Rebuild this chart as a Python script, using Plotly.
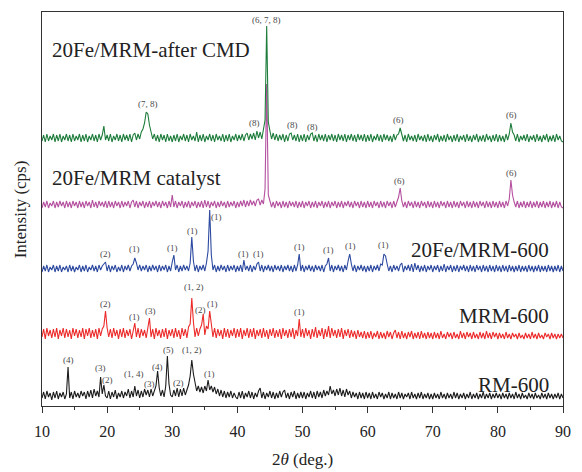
import plotly.graph_objects as go

# ---------------- data ----------------
# 2theta sampling grid, 10..90 deg every 0.25 deg (321 samples)
two_theta = [10 + 0.25 * i for i in range(321)]

# intensities above each pattern's own baseline; one row per 10 deg (40 samples) + final 90 deg value
rm600 = (
    [2,8,1,9,3,7,0,8,2,9,1,7,3,8,1,6,33,2,8,1,9,3,7,2,9,4,8,1,9,3,10,2,11,4,9,3,23,6,15,4]
  + [2,9,1,8,3,10,1,7,3,9,2,8,4,11,2,9,3,14,4,10,2,9,3,11,5,10,3,11,4,10,14,29,12,4,10,3,14,44,16,5]
  + [3,10,4,12,3,11,4,12,5,10,15,24,40,26,16,9,14,8,13,7,14,9,20,10,14,8,13,6,11,4,10,3,9,2,8,3,9,2,7,3]
  + [1,8,2,9,1,7,3,9,2,8,1,7,3,9,12,2,8,1,7,3,9,2,8,1,7,2,9,3,8,10,2,7,1,8,3,9,1,7,2,8]
  + [2,8,1,7,3,9,2,8,1,9,3,8,2,10,4,9,5,14,6,10,4,11,5,12,4,10,3,11,5,9,2,8,3,7,1,8,2,7,1,8]
  + [2,7,1,8,2,6,1,8,3,7,1,6,2,8,1,7,2,6,1,8,2,7,1,6,3,7,1,8,2,6,1,7,2,8,1,6,2,7,1,6]
  + [1,7,2,6,1,8,2,6,1,7,2,6,1,8,2,7,1,6,2,7,1,6,2,8,1,6,2,7,1,6,2,8,1,6,2,7,1,6,2,7]
  + [2,6,1,7,2,6,1,7,2,6,1,8,2,6,1,7,2,5,1,7,2,6,1,7,2,5,1,7,2,6,1,7,2,6,1,6,2,7,1,6]
  + [2]
)

mrm600 = (
    [3,11,1,12,4,10,2,11,3,12,1,10,4,12,2,11,3,10,1,12,4,11,2,10,3,12,1,11,4,12,2,10,3,11,1,12,4,11,14,29]
  + [12,3,11,2,12,4,10,1,11,3,12,2,10,4,11,1,9,17,3,12,2,11,4,10,2,12,22,3,11,1,12,4,10,2,11,3,12,1,10,4]
  + [11,2,12,3,10,1,12,4,11,2,13,16,42,18,3,12,4,11,15,26,5,14,11,29,13,3,12,2,11,4,10,1,12,3,11,2,10,4,12,2]
  + [11,3,12,1,10,4,12,2,11,3,12,1,10,4,11,2,12,3,10,1,11,4,12,2,10,3,11,1,12,4,10,2,11,3,12,1,10,4,21,3]
  + [11,2,12,4,10,1,11,3,13,2,10,4,12,1,11,3,14,2,12,4,10,2,11,3,12,1,10,4,11,2,10,3,9,1,10,3,8,2,9,1]
  + [8,2,9,1,7,3,9,1,8,2,7,1,9,3,8,1,7,10,2,8,1,9,2,7,1,8,3,9,1,7,2,8,1,9,2,7,1,8,2,7]
  + [1,8,2,7,1,9,2,6,1,8,3,7,1,8,2,6,1,9,2,7,1,8,3,7,1,8,2,6,1,8,2,7,1,9,2,7,1,8,3,7]
  + [1,7,2,6,1,8,2,6,1,7,3,6,1,7,2,5,1,7,2,6,1,8,2,6,1,7,2,5,1,7,3,6,1,7,2,6,1,6,2,6]
  + [2]
)

fe_mrm600 = (
    [1,7,2,8,1,6,3,8,1,7,2,8,1,6,3,7,1,8,2,7,1,6,3,8,1,7,2,8,1,6,3,8,2,7,1,8,3,7,9,11]
  + [2,8,1,7,3,8,1,6,2,8,1,7,3,8,2,7,9,15,10,3,8,2,7,3,8,1,7,2,8,3,7,1,8,2,7,3,8,1,7,2]
  + [11,18,3,8,1,7,2,8,3,7,2,10,36,12,2,8,1,7,3,8,2,10,22,63,18,3,8,1,7,2,8,3,7,1,8,2,7,3,8,1]
  + [7,2,8,1,13,3,7,2,8,1,7,3,9,11,2,8,1,7,3,8,2,7,1,8,3,7,2,8,1,7,3,8,2,7,1,8,2,8,19,2]
  + [8,1,7,3,8,2,7,1,8,3,7,2,8,1,7,9,15,2,8,1,7,3,8,2,7,1,8,3,12,19,9,2,8,1,7,3,8,2,7,1]
  + [7,2,8,1,7,3,8,2,9,8,19,17,9,2,7,1,8,3,7,2,8,10,1,7,3,8,2,9,1,10,3,8,1,7,2,8,1,7,3,8]
  + [1,7,3,8,1,7,2,9,1,7,3,8,1,7,2,8,1,7,3,8,2,7,1,8,2,7,1,8,3,7,1,8,2,7,1,8,2,7,1,8]
  + [2,7,1,8,2,7,1,8,2,7,1,7,2,8,1,7,2,7,1,8,2,7,1,7,2,8,1,7,2,7,1,8,2,7,1,7,2,8,1,7]
  + [2]
)

fe_catalyst = (
    [1,7,2,8,1,6,3,8,1,7,2,8,3,7,1,8,2,7,1,8,3,7,1,8,2,7,1,8,3,7,1,9,2,7,1,8,3,7,2,8]
  + [1,8,2,7,1,8,3,7,1,8,2,7,3,8,1,7,9,2,8,1,7,3,8,1,7,2,8,1,7,3,8,2,7,1,8,3,7,1,8,2]
  + [14,2,8,1,7,3,8,1,7,2,8,1,7,3,8,1,7,2,8,1,9,2,8,1,7,3,8,1,7,2,8,3,7,1,8,2,7,3,8,1]
  + [7,2,8,3,9,2,8,3,9,4,8,3,9,10,4,9,5,20,125,14,8,2,7,1,8,3,7,1,8,2,7,1,8,3,7,2,8,1,7,2]
  + [8,1,7,3,8,1,7,2,8,1,7,3,8,1,7,2,8,1,7,3,8,1,7,2,8,1,7,3,8,2,7,1,8,3,7,1,8,2,7,1]
  + [8,2,7,1,8,3,7,1,8,2,7,1,8,3,7,1,8,2,7,12,21,8,2,7,1,8,3,7,1,8,2,7,1,8,3,7,1,8,2,7]
  + [1,8,2,7,1,8,3,7,1,8,2,7,1,8,2,7,1,8,3,7,1,8,2,7,1,8,2,7,1,8,3,7,1,8,2,7,1,8,2,7]
  + [1,8,2,7,1,8,3,10,29,14,7,2,8,1,7,2,8,1,7,2,8,1,7,2,8,1,7,2,8,1,7,2,8,1,7,2,8,1,7,2]
  + [1]
)

fe_after_cmd = (
    [2,8,1,9,2,7,3,9,1,8,2,9,1,7,3,9,2,8,1,9,2,7,3,9,1,8,2,9,1,7,3,9,2,8,1,9,3,8,17,3]
  + [8,2,9,1,7,3,9,2,8,1,9,3,8,2,9,1,8,10,3,9,4,11,14,20,31,29,18,11,4,9,2,8,1,9,3,8,1,9,2,7]
  + [1,8,2,9,1,7,3,9,2,8,1,9,3,7,2,11,1,8,2,9,1,7,3,9,2,8,1,9,3,7,2,9,1,8,2,9,1,7,3,9]
  + [2,8,3,9,2,8,10,3,9,4,10,3,12,5,11,4,13,23,117,21,12,4,10,3,9,2,8,3,9,1,8,2,9,10,3,8,2,9,1,8]
  + [2,9,1,8,3,9,10,2,8,1,9,3,8,2,9,1,8,3,9,2,8,1,9,3,8,2,9,1,8,3,9,2,8,1,9,3,8,2,9,1]
  + [8,2,9,1,7,3,9,2,8,1,9,3,8,2,7,1,9,3,8,9,15,7,2,8,1,9,3,7,2,8,1,9,3,7,2,8,1,9,2,7]
  + [1,8,3,9,1,7,2,8,1,9,3,7,1,8,2,9,1,7,3,8,1,9,2,7,1,8,3,9,1,7,2,8,1,9,3,7,1,8,2,9]
  + [1,8,2,7,1,9,3,9,20,11,8,2,9,1,7,3,8,2,9,1,7,3,8,1,9,2,7,1,8,3,9,1,7,2,8,1,9,3,7,2]
  + [1]
)

series_names = ["RM-600", "MRM-600", "20Fe/MRM-600", "20Fe/MRM catalyst", "20Fe/MRM-after CMD"]
series_values = [rm600, mrm600, fe_mrm600, fe_catalyst, fe_after_cmd]
series_offsets = [6, 66, 133, 197, 263]
series_colors = ["#1c1c1c", "#ec2b2b", "#2d4aa0", "#b4509f", "#1e7d3c"]

# peak labels: text, 2theta, absolute y
peak_text = (
    ["(4)", "(3)", "(2)", "(1, 4)", "(3)", "(4)", "(5)", "(2)", "(1, 2)", "(1)"]
  + ["(2)", "(1)", "(3)", "(1, 2)", "(2)", "(1)", "(1)"]
  + ["(2)", "(1)", "(1)", "(1)", "(1)", "(1)", "(1)", "(1)", "(1)", "(1)", "(1)"]
  + ["(6)", "(6)"]
  + ["(7, 8)", "(8)", "(6, 7, 8)", "(8)", "(8)", "(6)", "(6)"]
)
peak_x = (
    [14.1, 19.0, 20.1, 24.2, 26.5, 27.7, 29.4, 31.0, 33.1, 35.7]
  + [19.8, 24.2, 26.6, 33.3, 34.4, 36.2, 49.5]
  + [19.8, 24.2, 30.1, 33.1, 36.8, 41.0, 43.3, 49.5, 54.0, 57.3, 62.5]
  + [64.9, 82.1]
  + [26.2, 42.7, 44.5, 48.4, 51.6, 64.8, 82.1]
)
peak_y = (
    [46, 38, 26, 32, 22, 39, 56, 23, 56, 32]
  + [102, 89, 95, 119, 96, 102, 94]
  + [152, 157, 158, 175, 189, 152, 152, 159, 156, 160, 161]
  + [225, 233]
  + [302, 283, 386, 281, 279, 286, 291]
)

# series titles: text, 2theta anchor, y, horizontal anchor
title_text = ["20Fe/MRM-after CMD", "20Fe/MRM catalyst", "20Fe/MRM-600", "MRM-600", "RM-600"]
title_x = [11.2, 11.2, 88.2, 88.2, 88.2]
title_y = [356, 228, 156, 90, 21]
title_anchor = ["left", "left", "right", "right", "right"]

x_ticks = [10, 20, 30, 40, 50, 60, 70, 80, 90]

# ---------------- figure ----------------
SERIF = "Liberation Serif, Times New Roman, serif"
fig = go.Figure()
for vals, off, col in zip(series_values, series_offsets, series_colors):
    fig.add_trace(go.Scatter(
        x=two_theta, y=[v + off for v in vals], mode="lines",
        line=dict(color=col, width=1.1), hoverinfo="skip", showlegend=False))

annotations = []
for t, x, y in zip(peak_text, peak_x, peak_y):
    annotations.append(dict(x=x, y=y, text=t, showarrow=False,
                            font=dict(family=SERIF, size=9, color="#4a4a4a"),
                            xanchor="center", yanchor="middle"))
for t, x, y, a in zip(title_text, title_x, title_y, title_anchor):
    annotations.append(dict(x=x, y=y, text=t, showarrow=False,
                            font=dict(family=SERIF, size=21, color="#222222"),
                            xanchor=a, yanchor="middle"))
annotations.append(dict(xref="paper", yref="paper", x=0.5, y=-0.137,
                        text="2<i>θ</i> (deg.)", showarrow=False,
                        font=dict(family=SERIF, size=17, color="#222222"),
                        xanchor="center", yanchor="middle"))
annotations.append(dict(xref="paper", yref="paper", x=-0.0416, y=0.5,
                        text="Intensity (cps)", textangle=-90, showarrow=False,
                        font=dict(family=SERIF, size=17, color="#222222"),
                        xanchor="center", yanchor="middle"))

fig.update_layout(
    width=582, height=472,
    margin=dict(l=42, r=11, t=12, b=66),
    paper_bgcolor="white", plot_bgcolor="white",
    showlegend=False,
    annotations=annotations,
    xaxis=dict(range=[10, 90], tickvals=x_ticks, ticks="outside", ticklen=6,
               tickcolor="#333333", tickwidth=1, ticklabelstandoff=5,
               showline=True, linecolor="#333333", linewidth=1, mirror=True,
               showgrid=False, zeroline=False,
               tickfont=dict(family=SERIF, size=16, color="#222222"),
               minor=dict(ticks="outside", ticklen=3, dtick=5, tick0=10,
                          tickcolor="#333333", showgrid=False)),
    yaxis=dict(range=[0, 394], showticklabels=False, ticks="",
               showline=True, linecolor="#333333", linewidth=1, mirror=True,
               showgrid=False, zeroline=False),
)

fig.write_html("out.html")
